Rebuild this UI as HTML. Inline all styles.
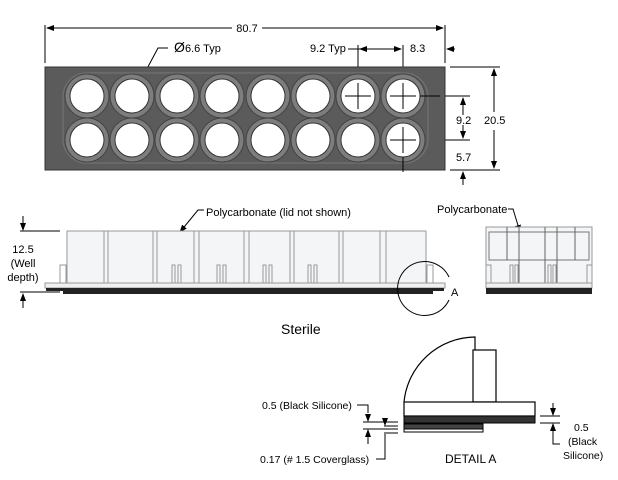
<!DOCTYPE html>
<html><head><meta charset="utf-8"><style>
html,body{margin:0;padding:0;background:#fff;}
svg{display:block;font-family:"Liberation Sans",sans-serif;}
</style></head><body>
<svg width="618" height="480" viewBox="0 0 618 480" xmlns="http://www.w3.org/2000/svg">
<defs>
<marker id="ar" markerWidth="8" markerHeight="6" refX="7" refY="3" orient="auto" markerUnits="userSpaceOnUse"><path d="M0,0 L8,3 L0,6z" fill="#000"/></marker>
</defs>
<g stroke="#000" stroke-width="1" fill="none">
<line x1="45" y1="25" x2="45" y2="63"/><line x1="445" y1="25" x2="445" y2="63"/>
<line x1="232" y1="28" x2="47" y2="28" marker-end="url(#ar)"/>
<line x1="262" y1="28" x2="443" y2="28" marker-end="url(#ar)"/>
<line x1="358" y1="45" x2="358" y2="72"/><line x1="403" y1="45" x2="403" y2="72"/>
<line x1="348" y1="49" x2="401" y2="49" marker-end="url(#ar)"/>
<line x1="380" y1="49" x2="360" y2="49" marker-end="url(#ar)"/>
<line x1="455" y1="49" x2="447" y2="49" marker-end="url(#ar)"/>
<path d="M168,48 L158,48 L142,78" marker-end="url(#ar)"/>
<line x1="450" y1="67" x2="500" y2="67"/><line x1="450" y1="170" x2="500" y2="170"/>
<line x1="494" y1="70" x2="494" y2="112"/><line x1="494" y1="130" x2="494" y2="167"/>
<line x1="494" y1="100" x2="494" y2="69" marker-end="url(#ar)"/><line x1="494" y1="140" x2="494" y2="168" marker-end="url(#ar)"/>
<line x1="430" y1="96" x2="470" y2="96"/><line x1="430" y1="140" x2="470" y2="140"/>
<line x1="463" y1="115" x2="463" y2="98" marker-end="url(#ar)"/><line x1="463" y1="125" x2="463" y2="138" marker-end="url(#ar)"/>
<line x1="463" y1="185" x2="463" y2="172" marker-end="url(#ar)"/>
</g>
<rect x="45" y="67" width="400" height="103" fill="#5b5b5b" stroke="#333"/>
<rect x="63" y="73" width="365" height="90" rx="24" fill="none" stroke="#6e6e6e" stroke-width="1.5"/>
<g fill="#7d7d7d" stroke="#444" stroke-width="1">
<circle cx="87" cy="96" r="22"/><circle cx="132" cy="96" r="22"/><circle cx="177" cy="96" r="22"/><circle cx="222" cy="96" r="22"/><circle cx="268" cy="96" r="22"/><circle cx="313" cy="96" r="22"/><circle cx="358" cy="96" r="22"/><circle cx="403" cy="96" r="22"/>
<circle cx="87" cy="140" r="22"/><circle cx="132" cy="140" r="22"/><circle cx="177" cy="140" r="22"/><circle cx="222" cy="140" r="22"/><circle cx="268" cy="140" r="22"/><circle cx="313" cy="140" r="22"/><circle cx="358" cy="140" r="22"/><circle cx="403" cy="140" r="22"/>
</g>
<g fill="#fff" stroke="#333" stroke-width="1">
<circle cx="87" cy="96" r="17"/><circle cx="132" cy="96" r="17"/><circle cx="177" cy="96" r="17"/><circle cx="222" cy="96" r="17"/><circle cx="268" cy="96" r="17"/><circle cx="313" cy="96" r="17"/><circle cx="358" cy="96" r="17"/><circle cx="403" cy="96" r="17"/>
<circle cx="87" cy="140" r="17"/><circle cx="132" cy="140" r="17"/><circle cx="177" cy="140" r="17"/><circle cx="222" cy="140" r="17"/><circle cx="268" cy="140" r="17"/><circle cx="313" cy="140" r="17"/><circle cx="358" cy="140" r="17"/><circle cx="403" cy="140" r="17"/>
</g>
<g stroke="#000" stroke-width="1">
<line x1="345" y1="96" x2="371" y2="96"/><line x1="358" y1="83" x2="358" y2="109"/>
<line x1="390" y1="96" x2="416" y2="96"/><line x1="403" y1="83" x2="403" y2="109"/>
<line x1="390" y1="140" x2="416" y2="140"/><line x1="403" y1="127" x2="403" y2="153"/>
<line x1="403" y1="157" x2="403" y2="172"/><line x1="420" y1="96" x2="440" y2="96"/>
</g>
<g font-size="11" fill="#000">
<text x="247" y="32" text-anchor="middle">80.7</text>
<text x="174" y="52" font-size="14">Ø</text><text x="185" y="52">6.6 Typ</text>
<text x="310" y="52">9.2 Typ</text>
<text x="410" y="52">8.3</text>
<text x="456" y="124">9.2</text>
<text x="484" y="124">20.5</text>
<text x="456" y="161">5.7</text>
</g>
<g stroke="#000" stroke-width="1" fill="none">
<line x1="20" y1="231" x2="60" y2="231"/><line x1="20" y1="292" x2="60" y2="292"/>
<line x1="23" y1="216" x2="23" y2="230" marker-end="url(#ar)"/>
<line x1="23" y1="308" x2="23" y2="294" marker-end="url(#ar)"/>
<path d="M204,210 L198,210 L180,232" marker-end="url(#ar)"/>
<path d="M508,209 L513,209 L520,232" marker-end="url(#ar)"/>
</g>
<rect x="67" y="231" width="359" height="52" fill="#f3f5f7" stroke="#999"/>
<g stroke="#999" stroke-width="1">
<line x1="104" y1="231" x2="104" y2="283"/><line x1="108" y1="231" x2="108" y2="283"/>
<line x1="153" y1="231" x2="153" y2="283"/><line x1="157" y1="231" x2="157" y2="283"/>
<line x1="194" y1="231" x2="194" y2="283"/><line x1="199" y1="231" x2="199" y2="283"/>
<line x1="244" y1="231" x2="244" y2="283"/><line x1="249" y1="231" x2="249" y2="283"/>
<line x1="290" y1="231" x2="290" y2="283"/><line x1="294" y1="231" x2="294" y2="283"/>
<line x1="339" y1="231" x2="339" y2="283"/><line x1="343" y1="231" x2="343" y2="283"/>
<line x1="380" y1="231" x2="380" y2="283"/><line x1="386" y1="231" x2="386" y2="283"/>
</g>
<g fill="none" stroke="#999">
<rect x="60" y="265" width="6" height="18"/><rect x="172" y="265" width="3" height="18"/><rect x="178" y="265" width="3" height="18"/>
<rect x="217" y="265" width="3" height="18"/><rect x="223" y="265" width="3" height="18"/>
<rect x="263" y="265" width="3" height="18"/><rect x="269" y="265" width="3" height="18"/>
<rect x="308" y="265" width="3" height="18"/><rect x="314" y="265" width="3" height="18"/>
<rect x="427" y="265" width="6" height="18"/>
</g>
<rect x="45" y="283" width="400" height="5" fill="#f0f0f0" stroke="#999"/>
<rect x="46" y="288" width="398" height="3" fill="#222"/>
<rect x="63" y="290" width="370" height="4" fill="#222"/>
<path d="M449,277 A27,27 0 1 0 449,300" fill="none" stroke="#000"/>
<text x="451" y="296" font-size="11">A</text>
<rect x="486" y="227" width="106" height="56" fill="#f3f5f7" stroke="#999"/>
<rect x="489" y="232" width="100" height="28" fill="none" stroke="#777"/>
<g stroke="#666"><line x1="507" y1="227" x2="507" y2="260"/><line x1="519" y1="227" x2="519" y2="283"/><line x1="545" y1="227" x2="545" y2="283"/><line x1="557" y1="227" x2="557" y2="283"/><line x1="575" y1="227" x2="575" y2="260"/></g>
<g fill="none" stroke="#999"><rect x="486" y="265" width="5" height="18"/><rect x="510" y="265" width="3" height="18"/><rect x="515" y="265" width="3" height="18"/><rect x="548" y="265" width="3" height="18"/><rect x="553" y="265" width="3" height="18"/><rect x="587" y="265" width="5" height="18"/></g>
<rect x="486" y="283" width="106" height="5" fill="#f0f0f0" stroke="#999"/>
<rect x="486" y="288" width="106" height="6" fill="#222"/>
<g font-size="11" fill="#000">
<text x="206" y="216">Polycarbonate (lid not shown)</text>
<text x="437" y="213">Polycarbonate</text>
<text x="23" y="253" text-anchor="middle">12.5</text>
<text x="23" y="267" text-anchor="middle">(Well</text>
<text x="23" y="281" text-anchor="middle">depth)</text>
<text x="281" y="334" font-size="14">Sterile</text>
</g>
<path d="M404,402 A72,72 0 0 1 475,337 L475,350" fill="#fff" stroke="#000" stroke-width="1.2"/>
<rect x="473" y="350" width="23" height="52" fill="#fff" stroke="#000" stroke-width="1.2"/>
<rect x="404" y="402" width="131" height="14" fill="#fff" stroke="#000" stroke-width="1.2"/>
<rect x="404" y="416" width="131" height="7" fill="#333" stroke="#000"/>
<rect x="404" y="424" width="79" height="5" fill="#444" stroke="#000"/>
<rect x="404" y="429" width="79" height="3" fill="#fff" stroke="#000"/>
<g stroke="#000" fill="none">
<path d="M357,405 L368,405 L368,413"/>
<line x1="363" y1="422" x2="398" y2="422"/><line x1="363" y1="429" x2="398" y2="429"/>
<line x1="368" y1="414" x2="368" y2="421" marker-end="url(#ar)"/><line x1="368" y1="444" x2="368" y2="430" marker-end="url(#ar)"/>
<line x1="384" y1="426" x2="398" y2="426"/><line x1="384" y1="433" x2="398" y2="433"/>
<line x1="385" y1="418" x2="385" y2="425" marker-end="url(#ar)"/>
<path d="M385,434 L385,459 L376,459"/>
<line x1="540" y1="416" x2="560" y2="416"/><line x1="540" y1="423" x2="560" y2="423"/>
<line x1="553" y1="403" x2="553" y2="415" marker-end="url(#ar)"/>
<line x1="553" y1="436" x2="553" y2="424" marker-end="url(#ar)"/>
<path d="M553,436 L553,444 L560,444"/>
</g>
<g font-size="10.5" fill="#000">
<text x="262" y="409">0.5 (Black Silicone)</text>
<text x="260" y="463">0.17 (# 1.5 Coverglass)</text>
<text x="445" y="463" font-size="12">DETAIL A</text>
<text x="574" y="431">0.5</text>
<text x="568" y="445">(Black</text>
<text x="563" y="459">Silicone)</text>
</g>
</svg>
</body></html>
